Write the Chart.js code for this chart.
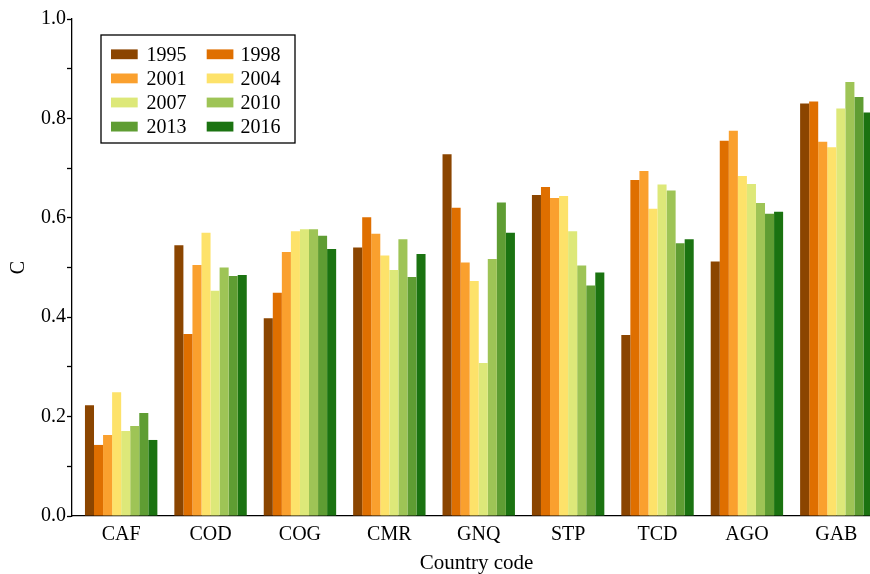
<!DOCTYPE html>
<html>
<head>
<meta charset="utf-8">
<script src="https://cdn.jsdelivr.net/npm/chart.js@4/dist/chart.umd.min.js"></script>
<style>
  html, body { margin: 0; padding: 0; background: #fff; overflow: hidden; }
  #wrap { width: 870px; height: 574px; overflow: hidden; position: relative; }
  canvas { display: block; }
</style>
</head>
<body>
<div id="wrap"><canvas id="c" width="882" height="574"></canvas></div>
<script>
const categories = ['CAF', 'COD', 'COG', 'CMR', 'GNQ', 'STP', 'TCD', 'AGO', 'GAB'];
const years = ['1995', '1998', '2001', '2004', '2007', '2010', '2013', '2016'];
const colors = ['#8B4500', '#DF6F00', '#FAA02E', '#FDE26A', '#DDE879', '#9EC456', '#5F9D33', '#1B7311'];

const y1995 = [0.223, 0.545, 0.398, 0.540, 0.728, 0.646, 0.364, 0.512, 0.830];
const y1998 = [0.143, 0.366, 0.449, 0.601, 0.620, 0.662, 0.676, 0.755, 0.834];
const y2001 = [0.163, 0.505, 0.531, 0.568, 0.510, 0.640, 0.694, 0.775, 0.753];
const y2004 = [0.249, 0.570, 0.573, 0.524, 0.473, 0.644, 0.618, 0.684, 0.742];
const y2007 = [0.171, 0.453, 0.577, 0.495, 0.308, 0.573, 0.667, 0.668, 0.820];
const y2010 = [0.181, 0.500, 0.577, 0.557, 0.517, 0.504, 0.655, 0.630, 0.873];
const y2013 = [0.207, 0.483, 0.564, 0.481, 0.631, 0.464, 0.549, 0.608, 0.843];
const y2016 = [0.153, 0.485, 0.537, 0.527, 0.570, 0.490, 0.557, 0.612, 0.812];
const series = [y1995, y1998, y2001, y2004, y2007, y2010, y2013, y2016];

const yTicks = [0, 0.1, 0.2, 0.3, 0.4, 0.5, 0.6, 0.7, 0.8, 0.9, 1.0];

const FONT = "'Liberation Serif', 'Times New Roman', serif";

const boxLegend = {
  id: 'boxLegend',
  afterDraw(chart) {
    const ctx = chart.ctx;
    ctx.save();
    ctx.strokeStyle = '#000';
    ctx.lineWidth = 1.3;
    ctx.strokeRect(101, 35, 194, 108);
    ctx.font = '20px ' + FONT;
    ctx.textBaseline = 'middle';
    ctx.textAlign = 'left';
    chart.data.datasets.forEach((ds, i) => {
      const row = Math.floor(i / 2), col = i % 2;
      const cy = 54.3 + row * 24.1;
      const sx = col === 0 ? 111 : 206.7;
      const tx = col === 0 ? 146.5 : 240.5;
      ctx.fillStyle = ds.backgroundColor;
      ctx.fillRect(sx, cy - 4.9, 26.7, 9.8);
      ctx.fillStyle = '#000';
      ctx.fillText(ds.label, tx, cy + 1);
    });
    ctx.restore();
  }
};

new Chart(document.getElementById('c'), {
  type: 'bar',
  data: {
    datasets: years.map((yr, k) => ({
      label: yr,
      data: categories.map((c, i) => ({ x: i, y: series[k][i] })),
      backgroundColor: colors[k],
      borderWidth: 0,
      categoryPercentage: 0.81,
      barPercentage: 1.0
    }))
  },
  options: {
    responsive: false,
    animation: false,
    devicePixelRatio: 1,
    layout: { padding: { left: 0, right: 1, top: 19, bottom: 0 } },
    plugins: { legend: { display: false }, tooltip: { enabled: false } },
    scales: {
      x: {
        type: 'linear',
        min: -0.55,
        max: 8.5,
        bounds: 'data',
        offset: false,
        afterBuildTicks: s => { s.ticks = categories.map((c, i) => ({ value: i })); },
        afterFit: s => { s.height = 58; },
        ticks: {
          autoSkip: false,
          maxRotation: 0,
          padding: 7,
          color: '#000',
          font: { family: FONT, size: 20 },
          callback: v => categories[v]
        },
        grid: { display: false, drawTicks: false, tickLength: 0 },
        border: { display: true, color: '#000', width: 1.3 },
        title: {
          display: true,
          text: 'Country code',
          color: '#000',
          font: { family: FONT, size: 21, lineHeight: 1 },
          padding: { top: 0, bottom: 0 }
        }
      },
      y: {
        min: 0,
        max: 1.0,
        afterBuildTicks: s => { s.ticks = yTicks.map(v => ({ value: v })); },
        afterFit: s => { s.width = 72; },
        ticks: {
          autoSkip: false,
          padding: 1,
          color: '#000',
          font: { family: FONT, size: 20 },
          callback: v => (Math.round(v * 10) % 2 === 0 ? v.toFixed(1) : '')
        },
        grid: { drawOnChartArea: false, drawTicks: true, tickLength: 5, tickColor: '#000', tickWidth: 1.3 },
        border: { display: true, color: '#000', width: 1.3 },
        title: {
          display: true,
          text: 'C',
          color: '#000',
          font: { family: FONT, size: 20, lineHeight: 1 },
          padding: { top: 9, bottom: 0 }
        }
      }
    }
  },
  plugins: [boxLegend]
});
</script>
</body>
</html>
